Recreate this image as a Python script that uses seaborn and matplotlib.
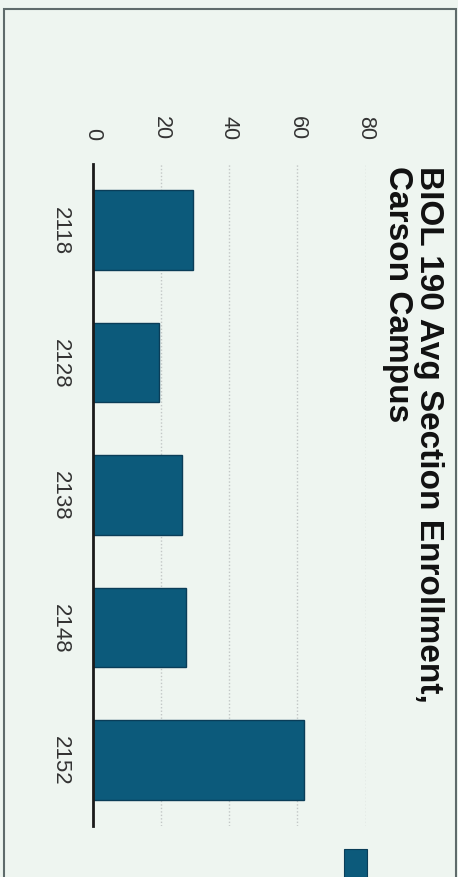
import matplotlib
matplotlib.use("Agg")
import matplotlib.pyplot as plt
from matplotlib.patches import Rectangle
import seaborn as sns
import pandas as pd

# Average section enrollment per course section, Carson campus
sections = ["2118", "2128", "2138", "2148", "2152"]
avg_enrollment = [29.5, 19.5, 26.2, 27.3, 61.9]
value_ticks = [0, 20, 40, 60, 80]
title_text = "BIOL 190 Avg Section Enrollment,\nCarson Campus"

bg = "#eef5f0"
bar_color = "#0c5a7b"

sns.set_theme(style="white")
plt.rcParams["font.family"] = ["Liberation Sans", "DejaVu Sans"]

df = pd.DataFrame({"section": sections, "enrollment": avg_enrollment})

fig = plt.figure(figsize=(4.58, 8.78), dpi=100, facecolor=bg)
ax = fig.add_axes([0.2024, 0.0581, 0.5961, 0.754])
ax.set_facecolor(bg)

sns.barplot(data=df, x="enrollment", y="section", order=sections,
            color=bar_color, saturation=1, width=0.6,
            edgecolor="#0a3d58", linewidth=1.0, ax=ax)

ax.set_xlim(0, 80)
ax.set_ylim(4.5, -0.5)
ax.set_xticks(value_ticks)
ax.xaxis.tick_top()
ax.set_xticklabels([str(v) for v in value_ticks], rotation=-90,
                   fontsize=15.5, color="#333333")
ax.set_yticklabels(sections, rotation=-90, fontsize=16, color="#333333",
                   va="center")
ax.tick_params(axis="x", length=0, pad=18)
ax.tick_params(axis="y", length=0, pad=16)
ax.set_xlabel("")
ax.set_ylabel("")

# dotted value gridlines
for v in value_ticks[1:]:
    ax.axvline(v, color="#c2c7c6", linestyle=(0, (1, 1.5)), linewidth=1.0, zorder=0)

for side in ["top", "right", "bottom"]:
    ax.spines[side].set_visible(False)
ax.spines["left"].set_color("#1a1a1a")
ax.spines["left"].set_linewidth(2)

fig.text(444 / 458, 1 - 166 / 878, title_text, rotation=-90,
         ha="right", va="top", multialignment="left",
         fontsize=24, fontweight="bold", color="#111111", linespacing=1.0)

# legend swatch
fig.patches.append(Rectangle((344 / 458, 0), 23 / 458, 28 / 878,
                             transform=fig.transFigure, facecolor=bar_color,
                             edgecolor="#0a3d58", linewidth=0.8))

# outer frame
fig.patches.append(Rectangle((4 / 458, -0.01), 452 / 458, 1 - 10 / 878 + 0.01,
                             transform=fig.transFigure, fill=False,
                             edgecolor="#5f6b6b", linewidth=1.5))

fig.savefig("out.png", dpi=100, facecolor=bg)
